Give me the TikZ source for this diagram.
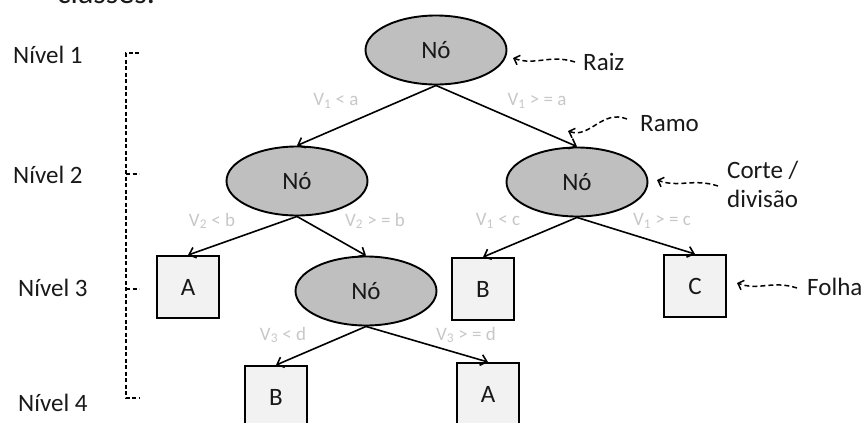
\documentclass[tikz,border=0pt]{standalone}
\usepackage{fontspec}
\setmainfont{Carlito}
\usetikzlibrary{shapes.geometric,arrows.meta}
\begin{document}
\begin{tikzpicture}[x=1pt,y=-1pt,
  txt/.style={font=\fontsize{25}{29}\selectfont, text=black!90, inner sep=0pt},
  cond/.style={font=\fontsize{19}{21}\selectfont, text=black!22, inner sep=0pt},
  nodo/.style={ellipse, draw, line width=1.9pt, fill=gray!50, minimum width=141pt, minimum height=69pt, inner sep=0pt, font=\fontsize{25}{29}\selectfont, text=black!90},
  folha/.style={rectangle, draw, line width=1.9pt, fill=black!5, minimum width=62pt, minimum height=62pt, inner sep=0pt, font=\fontsize{25}{29}\selectfont, text=black!90},
  ramo/.style={-{Straight Barb[length=6pt,width=11pt,line width=1.6pt]}, line width=1.6pt},
  annot/.style={-{Straight Barb[length=5pt,width=10pt,line width=1.5pt]}, dash pattern=on 5pt off 3pt, line width=1.5pt},
  nivel/.style={dash pattern=on 4pt off 2.5pt, line width=1.4pt}
]
\useasboundingbox (0,0) rectangle (863,423);
\clip (0,0) rectangle (863,423);

% clipped heading fragment
\node[font=\fontsize{32}{34}\selectfont, text=black!90, inner sep=0pt, anchor=base west] (cab) at (57,4) {classes.};

% level labels
\node[txt, anchor=west] (n1) at (13,55) {Nível 1};
\node[txt, anchor=west] (n2) at (13,175) {Nível 2};
\node[txt, anchor=west] (n3) at (18,288) {Nível 3};
\node[txt, anchor=west] (n4) at (18,403) {Nível 4};

% level bracket
\draw[nivel] (139,53) -- (126,53) -- (126,398) -- (139,398);
\draw[nivel] (126,174) -- (139,174);
\draw[nivel] (126,289) -- (139,289);

% tree nodes
\node[nodo] (raiz) at (436,50) {Nó};
\node[nodo] (e2) at (297,181) {Nó};
\node[nodo] (d2) at (577,182) {Nó};
\node[nodo] (m3) at (366,291) {Nó};
\node[folha] (fA) at (188,287) {A};
\node[folha] (fB) at (483,289) {B};
\node[folha] (fC) at (695,286) {C};
\node[folha] (gB) at (276,397) {B};
\node[folha] (gA) at (488,394) {A};

% branches
\draw[ramo] (raiz.south) -- (e2.north);
\draw[ramo] (raiz.south) -- (d2.north);
\draw[ramo] (e2.south) -- (fA.north);
\draw[ramo] (e2.south) -- (m3.north);
\draw[ramo] (d2.south) -- (fB.north);
\draw[ramo] (d2.south) -- (fC.north);
\draw[ramo] (m3.south) -- (gB.north);
\draw[ramo] (m3.south) -- (gA.north);

% conditions
\node[cond] (c1) at (336,101) {V\textsubscript{1} < a};
\node[cond] (c2) at (537,101) {V\textsubscript{1} > = a};
\node[cond] (c3) at (212,221) {V\textsubscript{2} < b};
\node[cond] (c4) at (375,221) {V\textsubscript{2} > = b};
\node[cond] (c5) at (498,221) {V\textsubscript{1} < c};
\node[cond] (c6) at (662,221) {V\textsubscript{1} > = c};
\node[cond] (c7) at (283,335) {V\textsubscript{3} < d};
\node[cond] (c8) at (466,335) {V\textsubscript{3} > = d};

% annotations
\node[txt, anchor=west] (tRaiz) at (583,62) {Raiz};
\node[txt, anchor=west] (tRamo) at (640,124) {Ramo};
\node[txt, anchor=west, align=left] (tCorte) at (727,184) {Corte /\\divisão};
\node[txt, anchor=west] (tFolha) at (807,287) {Folha};

\coordinate (pRaiz) at (513,58);
\coordinate (pRamo) at (568,131);
\coordinate (pCorte) at (657,180);
\coordinate (pFolha) at (737,283);

\draw[annot] ([xshift=-8pt]tRaiz.west) .. controls +(-25,-8) and +(22,8) .. (pRaiz);
\draw[annot] ([xshift=-13pt,yshift=5pt]tRamo.west) .. controls +(-25,-10) and +(22,8) .. (pRamo);
\draw[annot] ([xshift=-9pt,yshift=-2pt]tCorte.west) .. controls +(-25,-8) and +(22,8) .. (pCorte);
\draw[annot] ([xshift=-10pt,yshift=-1pt]tFolha.west) .. controls +(-25,-8) and +(22,8) .. (pFolha);
\end{tikzpicture}
\end{document}
